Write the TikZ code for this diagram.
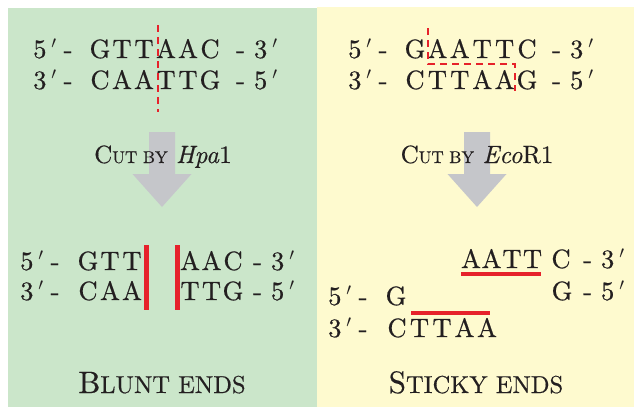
\documentclass[tikz,border=0pt]{standalone}
\usepackage{fontspec}
\setmainfont{lmroman10-regular.otf}[ItalicFont=lmroman10-italic.otf,FakeBold=0.4]
\newfontfamily\dnafont{lmroman10-regular.otf}[FakeBold=0.6]
\usetikzlibrary{positioning}
\definecolor{ink}{HTML}{231F20}
\definecolor{leaf}{HTML}{CBE6CA}
\definecolor{cream}{HTML}{FEFACF}
\definecolor{cut}{HTML}{E6222B}
\definecolor{arrowgray}{HTML}{C5C6CA}
\newcommand{\fivep}{5\kern5pt$'$\kern7pt-}
\newcommand{\threep}{3\kern5pt$'$\kern7pt-}
\newcommand{\tothree}{-\kern9pt3\kern5pt$'$}
\newcommand{\tofive}{-\kern9pt5\kern5pt$'$}
\newcommand{\smallcap}[1]{{\fontsize{17}{20}\selectfont #1}}
\newcommand{\bigsmallcap}[1]{{\fontsize{24.5}{28}\selectfont #1}}

\begin{document}
\begin{tikzpicture}[x=1pt,y=-1pt,
  nt/.style={anchor=base,inner sep=0pt,text=ink,font=\dnafont\fontsize{26.5}{30}\selectfont},
  endw/.style={nt,anchor=base west},
  cutline/.style={cut,line width=2.8pt,dash pattern=on 7pt off 5pt},
  bar/.style={cut,line width=5pt},
  underbar/.style={cut,line width=4pt},
  enzyme/.style={anchor=base,inner sep=0pt,text=ink,font=\fontsize{25}{30}\selectfont},
  title/.style={anchor=base,inner sep=0pt,text=ink,font=\fontsize{31}{36}\selectfont}]
\useasboundingbox (0,0) rectangle (634,407);
\fill[leaf] (8,8) rectangle (316.5,407);
\fill[cream] (316.5,7) rectangle (634,407);
\foreach \cx in {162,477}
  \fill[arrowgray] (\cx-13,132) -- ++(26,0) -- ++(0,42) -- ++(16.5,0)
    -- (\cx,207) -- (\cx-29.5,174) -- ++(16.5,0) -- cycle;

\node[endw] (hup) at (33,58) {\fivep};
\node[endw] (hlp) at (33,89) {\threep};
\foreach \b [count=\i] in {G,T,T,A,A,C} \node[nt] (hu\i) at ({100+22*(\i-1)},58) {\b};
\foreach \b [count=\i] in {C,A,A,T,T,G} \node[nt] (hl\i) at ({100+22*(\i-1)},89) {\b};
\node[endw] (hus) at (236,58) {\tothree};
\node[endw] (hls) at (236,89) {\tofive};
\draw[cutline] (158,25) -- (158,112);

\node[endw] (eup) at (348,58) {\fivep};
\node[endw] (elp) at (348,89) {\threep};
\foreach \b [count=\i] in {G,A,A,T,T,C} \node[nt] (eu\i) at ({415+22.4*(\i-1)},58) {\b};
\foreach \b [count=\i] in {C,T,T,A,A,G} \node[nt] (el\i) at ({415+22.4*(\i-1)},89) {\b};
\node[endw] (eus) at (552,58) {\tothree};
\node[endw] (els) at (552,89) {\tofive};
\draw[cutline] (428,28) -- (428,64) -- (515,64) -- (515,91);

\node[enzyme] (cuthpa) at (163,163) {C\smallcap{UT BY} \textit{Hpa}1};
\node[enzyme] (cuteco) at (477,163) {C\smallcap{UT BY} \textit{Eco}R1};

\node[endw] (bup) at (20,270) {\fivep};
\node[endw] (blp) at (20,300) {\threep};
\foreach \b [count=\i] in {G,T,T} \node[nt] (bu\i) at ({88+22*(\i-1)},270) {\b};
\foreach \b [count=\i] in {C,A,A} \node[nt] (bl\i) at ({88+22*(\i-1)},300) {\b};
\foreach \b [count=\i] in {A,A,C} \node[nt] (bru\i) at ({190+21.5*(\i-1)},270) {\b};
\foreach \b [count=\i] in {T,T,G} \node[nt] (brl\i) at ({190+21.5*(\i-1)},300) {\b};
\node[endw] (brus) at (253,270) {\tothree};
\node[endw] (brls) at (253,300) {\tofive};
\draw[bar] (146.5,245) -- (146.5,310);
\draw[bar] (177,245) -- (177,310);

\foreach \b [count=\i] in {A,A,T,T} \node[nt] (su\i) at ({471+20.5*(\i-1)},268) {\b};
\node[nt] (suc) at (561,268) {C};
\node[nt] (sug) at (562,300) {G};
\node[endw] (sus) at (583,268) {\tothree};
\node[endw] (sls) at (583,300) {\tofive};
\draw[underbar] (461,273.5) -- (541,273.5);
\node[endw] (sfp) at (328,305) {\fivep};
\node[nt] (sfg) at (396,305) {G};
\node[endw] (stp) at (328,337) {\threep};
\foreach \b [count=\i] in {C,T,T,A,A} \node[nt] (st\i) at ({397+22.5*(\i-1)},337) {\b};
\draw[underbar] (411,313) -- (490,313);

\node[title] (blunt) at (162,393) {B\bigsmallcap{LUNT ENDS}};
\node[title] (sticky) at (476,393) {S\bigsmallcap{TICKY ENDS}};
\end{tikzpicture}
\end{document}
